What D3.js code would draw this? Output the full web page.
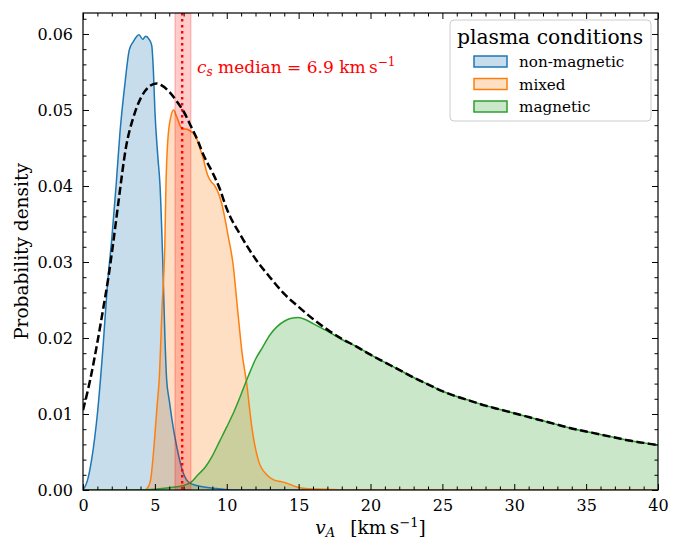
<!DOCTYPE html>
<html lang="en">
<head>
  <meta charset="UTF-8" />
  <title>Alfvén speed distributions</title>
  <script src="https://d3js.org/d3.v7.min.js"></script>
  <style>
    body { margin: 0; background: white; }
    svg { font-family: "DejaVu Serif", serif; }
    .tick text { font-size: 16px; fill: #000; }
  </style>
</head>
<body>
<svg width="683" height="542"></svg>
<script>
  // KDE curves: [vA, density]
  const nonMagnetic = [
    [0, 0], [0.3, 0.0012], [0.6, 0.004], [1.0, 0.010], [1.4, 0.019], [1.7, 0.027],
    [2.0, 0.033], [2.3, 0.040], [2.57, 0.047], [2.92, 0.0535], [3.22, 0.0579],
    [3.5, 0.0590], [3.9, 0.0599], [4.15, 0.0593], [4.36, 0.0597], [4.6, 0.0593],
    [4.78, 0.0585], [4.9, 0.055], [5.0, 0.050], [5.2, 0.044], [5.36, 0.040],
    [5.55, 0.030], [5.7, 0.020], [5.82, 0.0145], [6.0, 0.0118], [6.17, 0.0095],
    [6.52, 0.0057], [6.98, 0.0022], [7.44, 0.0009], [8.4, 0.0004], [9.3, 0.0002],
    [10.5, 0], [40, 0]
  ];
  const mixed = [
    [0, 0], [4.3, 0], [4.5, 0.0003], [4.7, 0.0013], [4.95, 0.006], [5.15, 0.011],
    [5.3, 0.0145], [5.5, 0.024], [5.7, 0.033], [5.77, 0.040], [5.9, 0.046],
    [6.1, 0.049], [6.3, 0.0500], [6.5, 0.0492], [6.87, 0.0476], [7.33, 0.0474],
    [7.91, 0.0462], [8.3, 0.0440], [8.72, 0.0412], [8.95, 0.0405], [9.18, 0.0400],
    [9.65, 0.0377], [10.11, 0.0333], [10.46, 0.0294], [10.69, 0.0250],
    [10.92, 0.0206], [11.04, 0.0184], [11.39, 0.0140], [11.74, 0.0083],
    [12.2, 0.0039], [12.78, 0.0020], [13.3, 0.0013], [13.8, 0.0011], [14.17, 0.0009],
    [14.87, 0.0004], [15.5, 0.0002], [17.0, 0.0001], [18, 0], [40, 0]
  ];
  const magnetic = [
    [0, 0], [4.0, 0], [5.0, 0.0001], [6.0, 0.0003], [7.0, 0.0006], [7.5, 0.0010],
    [8.0, 0.0020], [8.5, 0.0030], [9.0, 0.0045], [9.5, 0.0064], [10.0, 0.0083],
    [10.5, 0.0103], [11.0, 0.0126], [11.5, 0.0150], [12.0, 0.0172], [12.5, 0.0188],
    [13.0, 0.0204], [13.5, 0.0215], [14.0, 0.0222], [14.5, 0.0226], [15.0, 0.0227],
    [15.5, 0.0224], [16.0, 0.0219], [17.0, 0.0209], [18.0, 0.0198], [19.0, 0.0189],
    [20.0, 0.0178], [21.0, 0.0168], [22.0, 0.0158], [23.0, 0.0148], [24.0, 0.0139],
    [25.0, 0.0130], [26.0, 0.0123], [27.0, 0.0117], [28.0, 0.0111], [29.0, 0.0106],
    [30.0, 0.0101], [31.0, 0.0096], [32.0, 0.0091], [33.0, 0.0086], [34.0, 0.0081],
    [35.0, 0.0077], [36.0, 0.0073], [37.0, 0.0069], [38.0, 0.0065], [39.0, 0.0062],
    [40.0, 0.0059]
  ];
  // combined (dashed) curve
  const combined = [
    [0, 0.0105], [0.5, 0.0145], [0.95, 0.0189], [1.4, 0.0238], [1.76, 0.0279],
    [2.1, 0.0325], [2.46, 0.0378], [3.0, 0.0452], [3.5, 0.0490], [4.0, 0.0515],
    [4.5, 0.0529], [5.1, 0.0535], [5.5, 0.0532], [6.0, 0.0524], [6.5, 0.0512],
    [7.0, 0.0498], [7.5, 0.0479], [8.0, 0.0459], [8.4, 0.0440], [9.0, 0.0418],
    [9.5, 0.0397], [10.0, 0.0370], [11.0, 0.0334], [12.0, 0.0304], [13.0, 0.0280],
    [14.0, 0.0258], [15.0, 0.0241], [16.0, 0.0225], [17.0, 0.0211], [18.0, 0.0199],
    [19.0, 0.0189], [20.0, 0.0178], [21.0, 0.0168], [22.0, 0.0158], [23.0, 0.0148],
    [24.0, 0.0139], [25.0, 0.0130], [26.0, 0.0123], [27.0, 0.0117], [28.0, 0.0111],
    [29.0, 0.0106], [30.0, 0.0101], [31.0, 0.0096], [32.0, 0.0091], [33.0, 0.0086],
    [34.0, 0.0081], [35.0, 0.0077], [36.0, 0.0073], [37.0, 0.0069], [38.0, 0.0065],
    [39.0, 0.0062], [40.0, 0.0059]
  ];

  const csMedian = 6.9;
  const csBand = [6.4, 7.5];

  const series = [
    { name: "non-magnetic", color: "#1f77b4", values: nonMagnetic },
    { name: "mixed", color: "#ff7f0e", values: mixed },
    { name: "magnetic", color: "#2ca02c", values: magnetic }
  ];

  const xTicks = [0, 5, 10, 15, 20, 25, 30, 35, 40];
  const yTicks = [0, 0.01, 0.02, 0.03, 0.04, 0.05, 0.06];

  const svg = d3.select("svg");
  const pL = 83, pR = 658, pT = 13, pB = 490;

  const x = d3.scaleLinear().domain([0, 40]).range([pL, pR]);
  const y = d3.scaleLinear().domain([0, 0.06276]).range([pB, pT]);

  svg.append("clipPath").attr("id", "plot")
    .append("rect").attr("x", pL).attr("y", pT)
    .attr("width", pR - pL).attr("height", pB - pT);

  const plot = svg.append("g").attr("clip-path", "url(#plot)");

  const area = d3.area().curve(d3.curveMonotoneX)
    .x(d => x(d[0])).y0(y(0)).y1(d => y(d[1]));
  const line = d3.line().curve(d3.curveMonotoneX)
    .x(d => x(d[0])).y(d => y(d[1]));

  // filled KDEs
  series.forEach(s => {
    plot.append("path").datum(s.values)
      .attr("d", area).attr("fill", s.color).attr("fill-opacity", 0.25);
  });
  series.forEach(s => {
    plot.append("path").datum(s.values)
      .attr("d", line).attr("fill", "none").attr("stroke", s.color).attr("stroke-width", 1.5);
  });

  // sound speed band
  plot.append("rect")
    .attr("x", x(csBand[0])).attr("y", pT)
    .attr("width", x(csBand[1]) - x(csBand[0])).attr("height", pB - pT)
    .attr("fill", "red").attr("fill-opacity", 0.2)
    .attr("stroke", "red").attr("stroke-opacity", 0.2).attr("stroke-width", 1.5);
  plot.append("line")
    .attr("x1", x(csMedian)).attr("x2", x(csMedian))
    .attr("y1", pT).attr("y2", pB)
    .attr("stroke", "red").attr("stroke-width", 2.4)
    .attr("stroke-dasharray", "2.4,3.6");

  // combined distribution
  plot.append("path").datum(combined)
    .attr("d", line).attr("fill", "none").attr("stroke", "black")
    .attr("stroke-width", 2.5).attr("stroke-dasharray", "8,3.5");

  // axes, ticks pointing inward on every side
  const xMinor = d3.range(0, 41, 1).filter(v => v % 5 !== 0);
  const yMinor = d3.range(0, 0.063, 0.002).filter((v, i) => i % 5 !== 0);

  svg.append("g").attr("transform", `translate(0,${pB})`)
    .call(d3.axisBottom(x).tickValues(xTicks).tickFormat(d3.format("d"))
      .tickSizeInner(-6).tickSizeOuter(0).tickPadding(10));
  svg.append("g").attr("transform", `translate(0,${pB})`)
    .call(d3.axisBottom(x).tickValues(xMinor).tickFormat("").tickSizeInner(-3.5).tickSizeOuter(0));
  svg.append("g").attr("transform", `translate(0,${pT})`)
    .call(d3.axisTop(x).tickValues(xTicks).tickFormat("").tickSizeInner(-6).tickSizeOuter(0));
  svg.append("g").attr("transform", `translate(0,${pT})`)
    .call(d3.axisTop(x).tickValues(xMinor).tickFormat("").tickSizeInner(-3.5).tickSizeOuter(0));

  svg.append("g").attr("transform", `translate(${pL},0)`)
    .call(d3.axisLeft(y).tickValues(yTicks).tickFormat(d3.format(".2f"))
      .tickSizeInner(-6).tickSizeOuter(0).tickPadding(10));
  svg.append("g").attr("transform", `translate(${pL},0)`)
    .call(d3.axisLeft(y).tickValues(yMinor).tickFormat("").tickSizeInner(-3.5).tickSizeOuter(0));
  svg.append("g").attr("transform", `translate(${pR},0)`)
    .call(d3.axisRight(y).tickValues(yTicks).tickFormat("").tickSizeInner(-6).tickSizeOuter(0));
  svg.append("g").attr("transform", `translate(${pR},0)`)
    .call(d3.axisRight(y).tickValues(yMinor).tickFormat("").tickSizeInner(-3.5).tickSizeOuter(0));

  svg.selectAll(".domain").remove();
  svg.selectAll(".tick line").attr("stroke", "#000").attr("stroke-width", 1);
  svg.selectAll(".tick text").style("font-family", "DejaVu Serif, serif");

  svg.append("rect").attr("x", pL).attr("y", pT)
    .attr("width", pR - pL).attr("height", pB - pT)
    .attr("fill", "none").attr("stroke", "#000").attr("stroke-width", 1.2);

  // axis labels
  const xl = svg.append("text").attr("x", (pL + pR) / 2).attr("y", 534)
    .attr("text-anchor", "middle").attr("font-size", 18.5);
  xl.append("tspan").attr("font-style", "italic").text("v");
  xl.append("tspan").attr("font-style", "italic").attr("font-size", 13).attr("dy", 3).text("A");
  xl.append("tspan").attr("dy", -3).text("\u2002 [km\u2009s");
  xl.append("tspan").attr("font-size", 13).attr("dy", -7).text("\u22121");
  xl.append("tspan").attr("dy", 7).text("]");

  svg.append("text")
    .attr("transform", `translate(28,${(pT + pB) / 2}) rotate(-90)`)
    .attr("text-anchor", "middle").attr("font-size", 18.5)
    .text("Probability density");

  // c_s annotation
  const ann = svg.append("text").attr("x", 197).attr("y", 73)
    .attr("fill", "red").attr("font-size", 17);
  ann.append("tspan").attr("font-style", "italic").text("c");
  ann.append("tspan").attr("font-style", "italic").attr("font-size", 12).attr("dy", 3).text("s");
  ann.append("tspan").attr("dy", -3).text(" median = 6.9 km\u2009s");
  ann.append("tspan").attr("font-size", 12).attr("dy", -7).text("\u22121");

  // legend
  const legend = svg.append("g");
  legend.append("rect").attr("x", 450).attr("y", 20).attr("width", 201).attr("height", 101)
    .attr("rx", 4).attr("fill", "white").attr("fill-opacity", 0.8)
    .attr("stroke", "#ccc").attr("stroke-width", 1);
  legend.append("text").attr("x", 550).attr("y", 44).attr("text-anchor", "middle")
    .attr("font-size", 20.3).text("plasma conditions");
  series.forEach((s, i) => {
    const yy = 56 + i * 22.5;
    legend.append("rect").attr("x", 474).attr("y", yy).attr("width", 33).attr("height", 11)
      .attr("fill", s.color).attr("fill-opacity", 0.25)
      .attr("stroke", s.color).attr("stroke-width", 1.5);
    legend.append("text").attr("x", 519).attr("y", yy + 11).attr("font-size", 15.2).text(s.name);
  });
</script>
</body>
</html>
